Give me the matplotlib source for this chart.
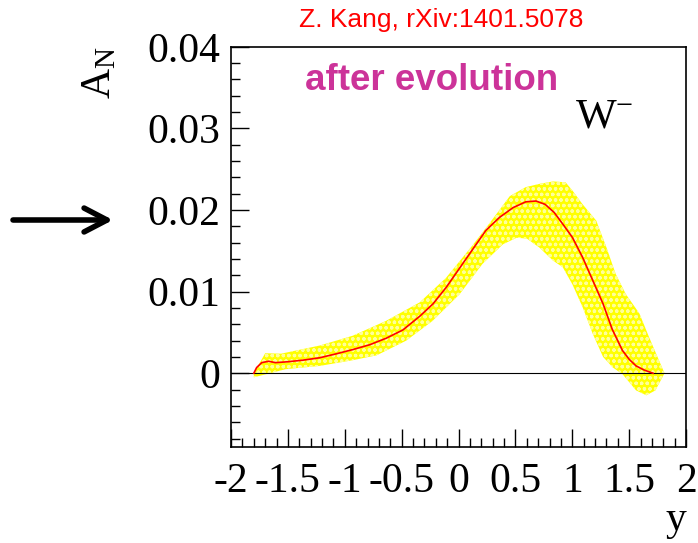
import matplotlib.pyplot as plt
from matplotlib.ticker import MultipleLocator

# central curve (red line)
y_mid = [-1.80, -1.775, -1.73, -1.67, -1.61, -1.51, -1.37, -1.22, -1.07, -0.93, -0.78,
         -0.635, -0.49, -0.34, -0.225, -0.11, 0.01, 0.13, 0.24, 0.36, 0.48, 0.59, 0.68,
         0.76, 0.84, 0.92, 1.00, 1.09, 1.18, 1.27, 1.35, 1.44, 1.50, 1.56, 1.63, 1.71]
an_mid = [0.0, 0.0007, 0.0013, 0.00147, 0.0013, 0.0014, 0.0016, 0.0019, 0.0024, 0.0029,
          0.0035, 0.0043, 0.0053, 0.0070, 0.0085, 0.0105, 0.0129, 0.0153, 0.0175, 0.0191,
          0.0203, 0.0210, 0.0211, 0.0207, 0.0197, 0.0182, 0.01665, 0.0142, 0.01135,
          0.0085, 0.0054, 0.0028, 0.0017, 0.0009, 0.0004, 0.0]

# uncertainty band, upper and lower edge
y_up = [-1.80, -1.70, -1.56, -1.22, -0.93, -0.64, -0.34, -0.11, 0.13, 0.30, 0.45,
        0.59, 0.71, 0.83, 0.94, 1.00, 1.09, 1.21, 1.30, 1.38, 1.47, 1.59, 1.675, 1.81]
an_up = [0.0, 0.00245, 0.0024, 0.0034, 0.0046, 0.0064, 0.0087, 0.0117, 0.0158, 0.0189,
         0.0217, 0.0228, 0.0232, 0.0235, 0.0234, 0.0224, 0.0207, 0.0187, 0.0154, 0.0122,
         0.0097, 0.0073, 0.0044, 0.0]
y_lo = [-1.80, -1.52, -1.22, -0.93, -0.72, -0.46, -0.23, 0.01, 0.21, 0.39, 0.51,
        0.60, 0.71, 0.83, 0.915, 1.00, 1.09, 1.18, 1.27, 1.356, 1.44, 1.56, 1.65, 1.73, 1.81]
an_lo = [-0.0005, 0.0005, 0.0009, 0.0016, 0.0022, 0.004, 0.0064, 0.0097, 0.0134, 0.0158,
         0.0166, 0.0165, 0.0154, 0.0138, 0.0130, 0.0109, 0.0081, 0.0048, 0.0020, 0.0007,
         -0.0001, -0.0021, -0.0027, -0.0021, 0.0]

x_ticks = [-2, -1.5, -1, -0.5, 0, 0.5, 1, 1.5, 2]
x_labels = ["-2", "-1.5", "-1", "-0.5", "0", "0.5", "1", "1.5", "2"]
y_ticks = [0, 0.01, 0.02, 0.03, 0.04]
y_labels = ["0", "0.01", "0.02", "0.03", "0.04"]

plt.rcParams["font.family"] = "Liberation Serif"
plt.rcParams["mathtext.fontset"] = "custom"
plt.rcParams["mathtext.rm"] = "Liberation Serif"
plt.rcParams["mathtext.it"] = "Liberation Serif"
plt.rcParams["axes.unicode_minus"] = False
plt.rcParams["hatch.linewidth"] = 0.9

fig = plt.figure(figsize=(6.98, 5.43), dpi=100)
ax = fig.add_axes([0.331, 0.1773, 0.652, 0.7366])

band_x = y_up + y_lo[::-1]
band_a = an_up + an_lo[::-1]
ax.fill(band_x, band_a, facecolor="#ffff00", edgecolor="#ffff99", hatch="ooo", lw=0, zorder=1)
ax.axhline(0, color="black", lw=0.8, zorder=2)
ax.plot(y_mid, an_mid, color="red", lw=1.2, zorder=3)

ax.set_xlim(-2, 2)
ax.set_ylim(-0.009, 0.04)
ax.set_xticks(x_ticks)
ax.set_xticklabels(x_labels)
ax.set_yticks(y_ticks)
ax.set_yticklabels(y_labels)
ax.xaxis.set_minor_locator(MultipleLocator(0.1))
ax.yaxis.set_minor_locator(MultipleLocator(0.002))
ax.tick_params(which="both", direction="in", top=False, right=False, labelsize=30, width=1)
ax.tick_params(axis="x", which="major", length=13, pad=11)
ax.tick_params(axis="y", which="major", length=13, pad=8)
ax.tick_params(which="minor", length=6.5)
for s in ax.spines.values():
    s.set_linewidth(1.2)

ax.set_xlabel("y", fontsize=30, loc="right", labelpad=0)
fig.text(100 / 698, 1 - 46 / 543, r"$\mathrm{A_N}$", rotation=90, fontsize=30,
         ha="center", va="top")

ax.text(0.756, 0.797, r"$\mathrm{W}^{-}$", transform=ax.transAxes, fontsize=31,
        va="baseline")
ax.text(0.163, 0.892, "after evolution", transform=ax.transAxes, fontsize=26.5,
        family="Liberation Sans", weight="bold", color="#cc3399", va="baseline")
fig.text(441 / 698, 1 - 27 / 543, "Z. Kang, rXiv:1401.5078", fontsize=19,
         family="Liberation Sans", color="red", ha="center", va="baseline")

ax.annotate("", xy=(113 / 698, 1 - 220 / 543), xytext=(13 / 698, 1 - 220 / 543),
            xycoords="figure fraction", textcoords="figure fraction",
            arrowprops=dict(arrowstyle="->,head_length=1.65,head_width=0.86",
                            lw=4, color="black", shrinkA=0, shrinkB=0))

fig.savefig("out.png", dpi=100)
